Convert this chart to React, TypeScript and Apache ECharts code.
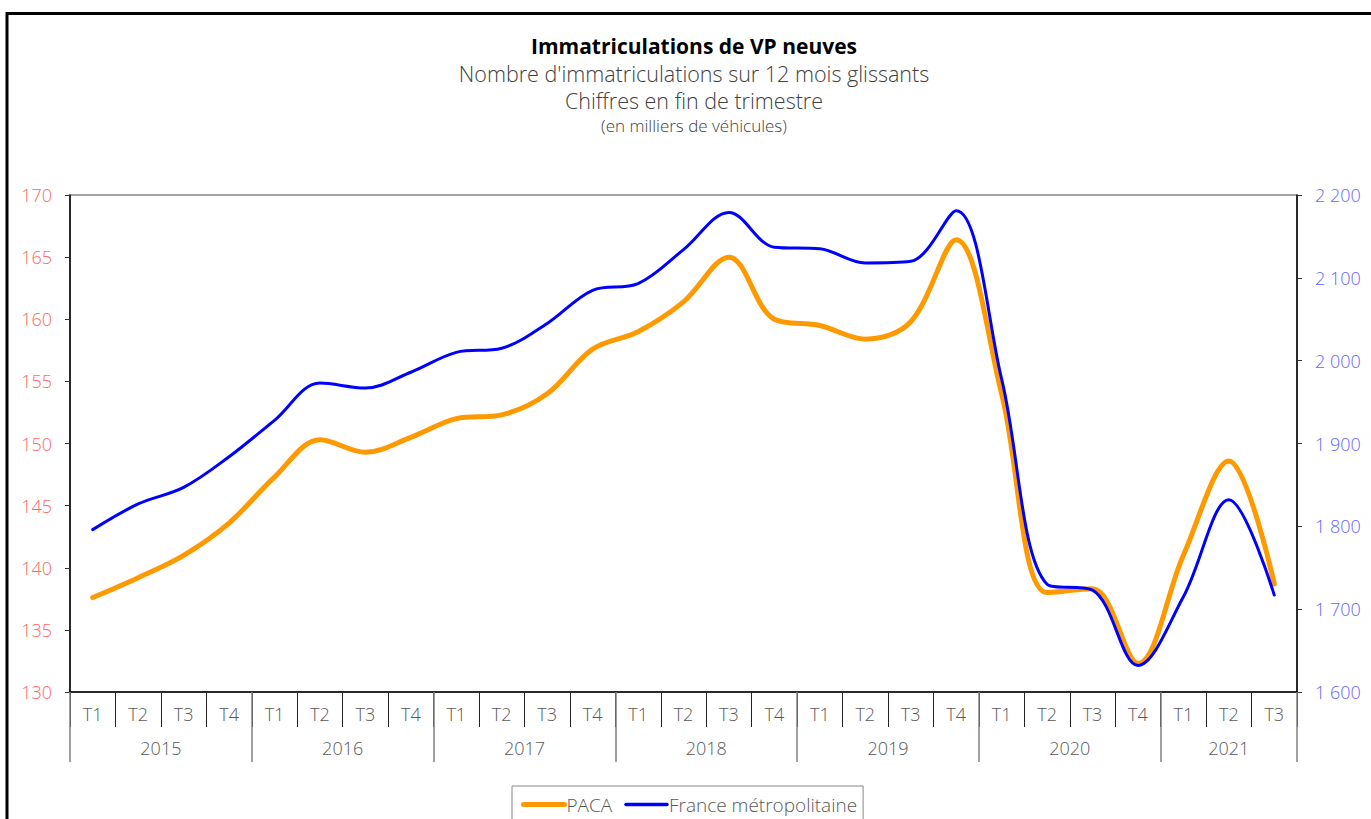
import React, { useEffect, useRef } from "react";
import * as echarts from "echarts";

const years = ["2015", "2016", "2017", "2018", "2019", "2020", "2021"];
const quartersPerYear = [4, 4, 4, 4, 4, 4, 3];
const quarterNames = ["T1", "T2", "T3", "T4"];

const paca = [137.6, 139.2, 141.0, 143.6, 147.3, 150.3, 149.3, 150.5, 152.0, 152.3, 154.0, 157.6, 159.0, 161.4, 165.0, 160.0, 159.5, 158.4, 159.8, 166.4, 154.0, 138.0, 138.3, 132.3, 141.0, 148.6, 138.7];
const france = [1796, 1827, 1847, 1884, 1928, 1973, 1967, 1986, 2010, 2015, 2045, 2085, 2093, 2134, 2179, 2137, 2135, 2118, 2120, 2181, 1978, 1730, 1723, 1632, 1715, 1832, 1717];

const leftMin = 130, leftMax = 170, leftStep = 5;
const rightMin = 1600, rightMax = 2200, rightStep = 100;

const FONT = "'Open Sans', 'Noto Sans', sans-serif";

function fmtThousands(v: number): string {
  if (v < 1000) return String(v);
  const t = Math.floor(v / 1000);
  const r = String(v % 1000).padStart(3, "0");
  return t + " " + r;
}

export default function App() {
  const ref = useRef<HTMLDivElement>(null);
  useEffect(() => {
    if (!ref.current) return;
    const chart = echarts.init(ref.current, undefined, { renderer: "svg" });

    const categories: string[] = [];
    const yearBounds: number[] = [0];
    const yearCenters: number[] = [];
    let pos = 0;
    quartersPerYear.forEach((n) => {
      for (let q = 0; q < n; q++) categories.push(quarterNames[q]);
      yearCenters.push(pos + n / 2);
      pos += n;
      yearBounds.push(pos);
    });

    const option: any = {
      animation: false,
      backgroundColor: "#fff",
      textStyle: { fontFamily: FONT },
      graphic: [
        {
          type: "rect",
          shape: { x: 7, y: 13.5, width: 1500, height: 900 },
          style: { fill: "none", stroke: "#000", lineWidth: 3 },
          silent: true,
        },
        {
          type: "text",
          x: 694,
          y: 46,
          style: { text: "Immatriculations de VP neuves", fill: "#000", font: "bold 21px " + FONT, textAlign: "center", textVerticalAlign: "middle" },
        },
        {
          type: "text",
          x: 694,
          y: 73,
          style: { text: "Nombre d'immatriculations sur 12 mois glissants", fill: "#404040", font: "300 21.5px " + FONT, textAlign: "center", textVerticalAlign: "middle" },
        },
        {
          type: "text",
          x: 694,
          y: 100,
          style: { text: "Chiffres en fin de trimestre", fill: "#404040", font: "300 21.5px " + FONT, textAlign: "center", textVerticalAlign: "middle" },
        },
        {
          type: "text",
          x: 694,
          y: 125,
          style: { text: "(en milliers de véhicules)", fill: "#404040", font: "300 17px " + FONT, textAlign: "center", textVerticalAlign: "middle" },
        },
      ],
      grid: {
        left: 70,
        right: 74,
        top: 195,
        bottom: 127,
        show: true,
        borderColor: "#888",
        borderWidth: 1.5,
        backgroundColor: "transparent",
      },
      legend: {
        left: 512,
        top: 786,
        borderColor: "#888",
        borderWidth: 1,
        padding: [9, 6, 30, 9],
        itemWidth: 41,
        itemHeight: 14,
        itemGap: 12,
        itemStyle: { opacity: 0 },
        textStyle: { fontFamily: FONT, fontSize: 19, fontWeight: 300, color: "#595959", padding: [0, 0, 0, -3] },
        data: [
          { name: "PACA", lineStyle: { width: 5, color: "#FF9900" } },
          { name: "France métropolitaine", lineStyle: { width: 3.5, color: "#0000FF" } },
        ],
      },
      xAxis: [
        {
          type: "category",
          data: categories,
          boundaryGap: true,
          position: "bottom",
          axisLine: { show: true, lineStyle: { color: "#000", width: 1.5 } },
          axisTick: { show: true, interval: 0, length: 35, lineStyle: { color: "#222", width: 1 } },
          axisLabel: { interval: 0, margin: 13, fontSize: 18, fontWeight: 300, color: "#595959", fontFamily: FONT },
          splitLine: { show: false },
        },
        {
          type: "value",
          min: 0,
          max: categories.length,
          position: "bottom",
          axisLine: { show: false },
          splitLine: { show: false },
          axisTick: { show: true, customValues: yearBounds, length: 70, lineStyle: { color: "#808080", width: 1.5 } },
          axisLabel: {
            show: true,
            customValues: yearCenters,
            margin: 47,
            fontSize: 18,
            fontWeight: 300,
            color: "#595959",
            fontFamily: FONT,
            formatter: (v: number) => {
              const i = yearCenters.indexOf(v);
              return i >= 0 ? years[i] : "";
            },
          },
        },
      ],
      yAxis: [
        {
          type: "value",
          min: leftMin,
          max: leftMax,
          interval: leftStep,
          position: "left",
          axisLine: { show: true, lineStyle: { color: "#000", width: 1.5 } },
          axisTick: { show: true, length: 5, lineStyle: { color: "#333" } },
          axisLabel: { margin: 18, fontSize: 18, fontWeight: 300, color: "#FF6666", fontFamily: FONT },
          splitLine: { show: false },
        },
        {
          type: "value",
          min: rightMin,
          max: rightMax,
          interval: rightStep,
          position: "right",
          axisLine: { show: true, lineStyle: { color: "#000", width: 1.5 } },
          axisTick: { show: true, length: 5, lineStyle: { color: "#333" } },
          axisLabel: { margin: 18, fontSize: 18, fontWeight: 300, color: "#6666FF", fontFamily: FONT, formatter: (v: number) => fmtThousands(v) },
          splitLine: { show: false },
        },
      ],
      series: [
        {
          name: "PACA",
          type: "line",
          xAxisIndex: 0,
          yAxisIndex: 0,
          data: paca,
          smooth: 0.35,
          showSymbol: false,
          symbol: "none",
          lineStyle: { color: "#FF9900", width: 5, cap: "round" },
          itemStyle: { color: "#FF9900" },
          z: 2,
        },
        {
          name: "France métropolitaine",
          type: "line",
          xAxisIndex: 0,
          yAxisIndex: 1,
          data: france,
          smooth: 0.35,
          showSymbol: false,
          symbol: "none",
          lineStyle: { color: "#0000FF", width: 3, cap: "round" },
          itemStyle: { color: "#0000FF" },
          z: 3,
        },
      ],
    };
    chart.setOption(option);
    return () => chart.dispose();
  }, []);
  return <div ref={ref} style={{ position: "absolute", left: 0, top: 0, width: 1371, height: 819 }} />;
}
